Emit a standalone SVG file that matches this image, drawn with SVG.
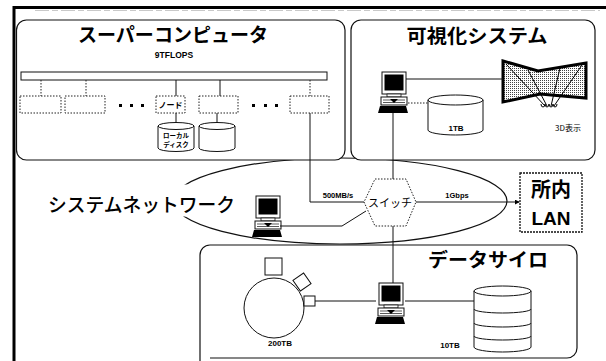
<svg xmlns="http://www.w3.org/2000/svg" xmlns:xlink="http://www.w3.org/1999/xlink" width="606" height="361" viewBox="0 0 606 361">
  <style>
    .box { fill: #fff; stroke: #111; stroke-width: 1.2; }
    .dot { fill: #fff; stroke: #222; stroke-width: 1; stroke-dasharray: 1.5 1.5; }
    .ln { fill: none; stroke: #111; stroke-width: 1; }
    .dln { fill: none; stroke: #222; stroke-width: 1; stroke-dasharray: 1.5 1.5; }
    .cyl { fill: #fff; stroke: #111; stroke-width: 1; }
    .jt { font-family: "Noto Sans CJK JP", "Noto Sans", sans-serif; fill: #000; }
    .title { font-size: 19px; font-weight: 600; }
    .small { font-family: "Liberation Sans", Arial, "Noto Sans CJK JP", sans-serif; font-weight: bold; fill: #000; }
  </style>
  <defs>
    <pattern id="stipple" width="2" height="2" patternUnits="userSpaceOnUse">
      <rect width="2" height="2" fill="#fff"/>
      <rect width="1" height="1" fill="#444"/>
    </pattern>
    <marker id="arr" viewBox="0 0 6 6" refX="5" refY="3" markerWidth="5" markerHeight="5" orient="auto">
      <path d="M0,0 L6,3 L0,6 z" fill="#000"/>
    </marker>
    <!-- desktop workstation icon, 30 x 41 -->
    <g id="pc">
      <rect x="4" y="0" width="24" height="22" fill="#fff" stroke="#111" stroke-width="1"/>
      <rect x="6.5" y="2.5" width="19" height="16" fill="#000"/>
      <rect x="9" y="22" width="14" height="3" fill="#fff" stroke="#111" stroke-width="0.8"/>
      <rect x="3" y="25" width="26" height="8" fill="#fff" stroke="#111" stroke-width="1"/>
      <path d="M5 28 H27 M5 30.5 H27" stroke="#111" stroke-width="0.7"/>
      <path d="M12 27 L20 27 L16 31 z" fill="#000"/>
      <path d="M2 34 H28 L30 41 H0 z" fill="#000"/>
    </g>
  </defs>

  <rect width="606" height="361" fill="#fff"/>

  <!-- page frame -->
  <path d="M14 361 V7.5 H606" fill="none" stroke="#000" stroke-width="3"/>
  <path d="M35 10.5 H600" fill="none" stroke="#bbb" stroke-width="0.8" stroke-dasharray="14 3 6 3"/>

  <!-- system network ellipse -->
  <g id="system-network">
    <ellipse cx="340" cy="201" rx="167" ry="43" fill="none" stroke="#111" stroke-width="1.2"/>
    <rect x="40" y="184.5" width="148" height="32" fill="#fff"/>
    <text class="jt" x="48" y="212" font-size="19" font-weight="500" textLength="187" lengthAdjust="spacingAndGlyphs">システムネットワーク</text>
  </g>

  <!-- supercomputer -->
  <g id="supercomputer">
    <rect class="box" x="16.5" y="20" width="328.5" height="140" rx="10"/>
    <text class="jt title" x="173" y="42" text-anchor="middle" textLength="190" lengthAdjust="spacingAndGlyphs">スーパーコンピュータ</text>
    <text class="small" x="174" y="58" font-size="8.5" text-anchor="middle">9TFLOPS</text>
    <rect x="21" y="72" width="306" height="8" fill="#fff" stroke="#111" stroke-width="1"/>
    <path class="dln" d="M41 80 V96 M86 80 V96 M310 80 V96"/>
    <path class="ln" d="M176 80 V96 M220 80 V96"/>
    <rect class="dot" x="20" y="96" width="41" height="17"/>
    <rect class="dot" x="65" y="96" width="40" height="17"/>
    <rect class="dot" x="156" y="96" width="29" height="17"/>
    <rect class="dot" x="199" y="96" width="39" height="17"/>
    <rect class="dot" x="290" y="96" width="39" height="17"/>
    <g fill="#000">
      <rect x="119" y="104" width="3" height="3"/>
      <rect x="130" y="104" width="3" height="3"/>
      <rect x="141" y="104" width="3" height="3"/>
      <rect x="252" y="104" width="3" height="3"/>
      <rect x="264" y="104" width="3" height="3"/>
      <rect x="275" y="104" width="3" height="3"/>
    </g>
    <text class="jt" x="170.5" y="108" font-size="8" font-weight="bold" text-anchor="middle">ノード</text>
    <path class="ln" d="M176 113 V126 M217 113 V126"/>
    <path class="cyl" d="M158 126 A18 3.5 0 0 1 194 126 V148 A18 3.5 0 0 1 158 148 Z M158 126 A18 3.5 0 0 0 194 126"/>
    <path class="cyl" d="M199 126 A18 3.5 0 0 1 235 126 V148 A18 3.5 0 0 1 199 148 Z M199 126 A18 3.5 0 0 0 235 126"/>
    <text class="jt" x="176" y="137.5" font-size="6.5" font-weight="bold" text-anchor="middle">ローカル</text>
    <text class="jt" x="176" y="146.5" font-size="6.5" font-weight="bold" text-anchor="middle">ディスク</text>
  </g>

  <!-- visualization system -->
  <g id="visualization">
    <rect class="box" x="351" y="20" width="244" height="140" rx="10"/>
    <text class="jt title" x="477" y="43" text-anchor="middle" textLength="141" lengthAdjust="spacingAndGlyphs">可視化システム</text>
    <use xlink:href="#pc" x="378" y="72"/>
    <path class="cyl" d="M428 100 A27.5 5 0 0 1 483 100 V130 A27.5 5 0 0 1 428 130 Z M428 100 A27.5 5 0 0 0 483 100"/>
    <text class="small" x="456" y="131" font-size="8" text-anchor="middle">1TB</text>
    <!-- curved 3D screen -->
    <path d="M503 61 L538 71 L586 63 V98 L540 94 L503 102 Z" fill="url(#stipple)" stroke="#000" stroke-width="3" stroke-linejoin="miter"/>
    <path d="M506 64 L545 106 M528 70 L547 106 M560 68 L551 106 M582 65 L554 106" stroke="#000" stroke-width="1" fill="none"/>
    <path d="M541 104 a2 3 0 0 0 4 0 M545 104 a2 3 0 0 0 4 0 M549 104 a2 3 0 0 0 4 0 M553 104 a2 3 0 0 0 4 0" fill="none" stroke="#000" stroke-width="1"/>
    <text class="jt" x="568" y="131" font-size="8" text-anchor="middle">3D表示</text>
  </g>

  <!-- data silo -->
  <g id="data-silo">
    <path class="box" d="M200 361 V255 A10 10 0 0 1 210 245 H567 A10 10 0 0 1 577 255 V348 A10 10 0 0 1 567 358 H210" fill="#fff"/>
    <text class="jt title" x="488" y="267" text-anchor="middle" textLength="120" lengthAdjust="spacingAndGlyphs">データサイロ</text>
    <circle cx="274" cy="308" r="30" fill="#fff" stroke="#111" stroke-width="1"/>
    <rect x="265" y="258" width="17" height="17" fill="#fff" stroke="#111" stroke-width="1"/>
    <rect x="-6.5" y="-6.5" width="13" height="13" fill="#fff" stroke="#111" stroke-width="1" transform="translate(302 282) rotate(-35)"/>
    <rect x="304" y="296" width="11" height="10" fill="#fff" stroke="#111" stroke-width="1"/>
    <text class="small" x="280" y="346" font-size="8" text-anchor="middle">200TB</text>
    <use xlink:href="#pc" x="375" y="283"/>
    <path class="cyl" d="M474 291 A28.5 5 0 0 1 531 291 V347 A28.5 5 0 0 1 474 347 Z M474 291 A28.5 5 0 0 0 531 291 M474 309 A28.5 4 0 0 0 531 309 M474 323 A28.5 4 0 0 0 531 323 M474 336 A28.5 4 0 0 0 531 336"/>
    <text class="small" x="450" y="348" font-size="8" text-anchor="middle">10TB</text>
  </g>

  <!-- network computer -->
  <g id="network-pc">
    <use xlink:href="#pc" x="252" y="196"/>
  </g>

  <!-- switch -->
  <g id="switch">
    <path class="dot" d="M375 179 H406 L416 202 L406 226 H375 L364 202 Z"/>
    <text class="jt" x="390" y="207" font-size="11" text-anchor="middle">スイッチ</text>
  </g>

  <!-- in-house LAN -->
  <g id="lan">
    <rect x="520" y="173" width="62" height="59" fill="#fff" stroke="#111" stroke-width="1.3" stroke-dasharray="2 1"/>
    <text class="jt" x="551" y="197" font-size="20" font-weight="bold" text-anchor="middle">所内</text>
    <text class="small" x="551" y="225" font-size="19" text-anchor="middle">LAN</text>
  </g>

  <!-- connectors -->
  <g id="connectors">
    <path class="ln" d="M310 113 V202 H364"/>
    <text class="small" x="338" y="198" font-size="7.5" text-anchor="middle">500MB/s</text>
    <path class="ln" d="M280 226 H342 L366 211"/>
    <path class="ln" d="M393 113 V179"/>
    <path class="ln" d="M393 226 V283"/>
    <path class="ln" d="M416 202 H519" marker-end="url(#arr)"/>
    <text class="small" x="457" y="198" font-size="7.5" text-anchor="middle">1Gbps</text>
    <path class="ln" d="M406 79 H503"/>
    <path class="dln" d="M408 103 H428"/>
    <path class="ln" d="M315 301 H376 M405 301 H474"/>
  </g>
</svg>
